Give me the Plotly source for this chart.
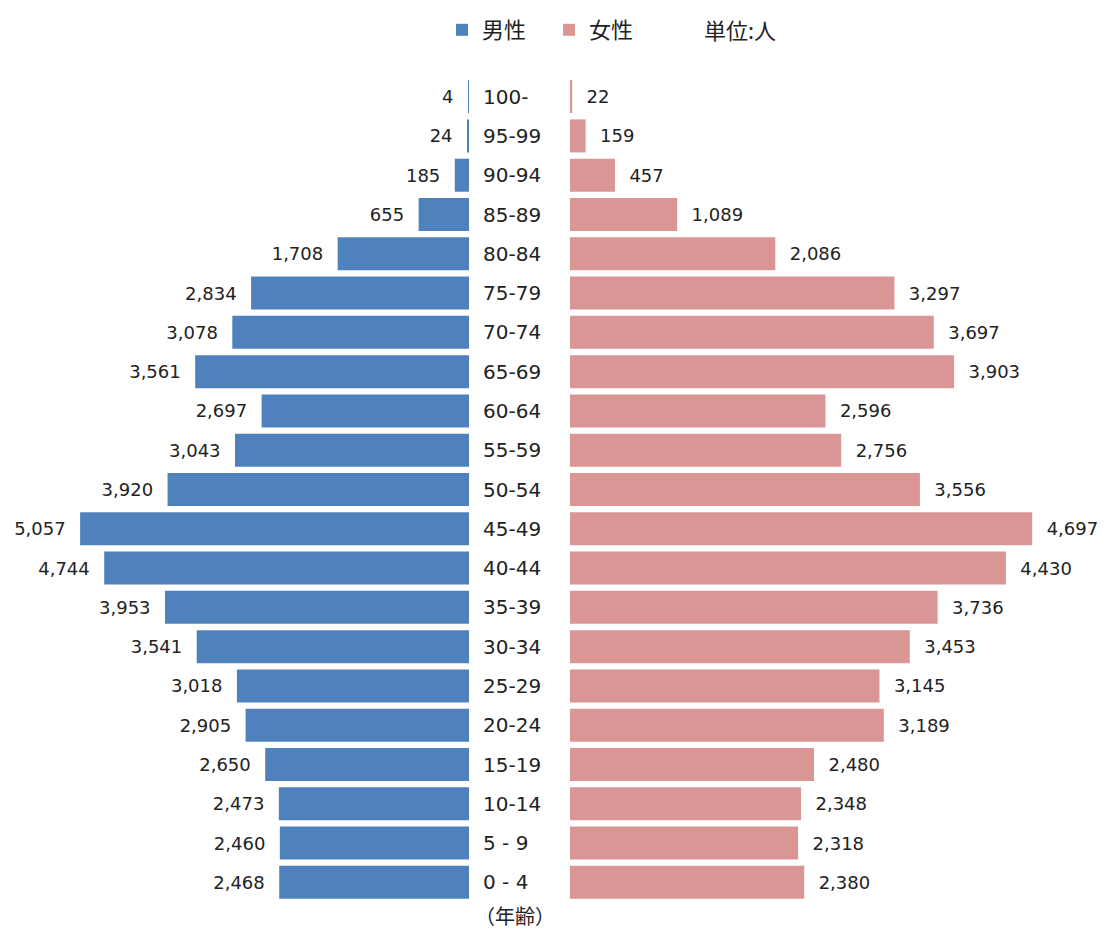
import plotly.graph_objects as go

# age groups, bottom to top
ages = ["0 - 4", "5 - 9", "10-14", "15-19", "20-24", "25-29", "30-34", "35-39",
        "40-44", "45-49", "50-54", "55-59", "60-64", "65-69", "70-74", "75-79",
        "80-84", "85-89", "90-94", "95-99", "100-"]
male = [2468, 2460, 2473, 2650, 2905, 3018, 3541, 3953, 4744, 5057, 3920,
        3043, 2697, 3561, 3078, 2834, 1708, 655, 185, 24, 4]
female = [2380, 2318, 2348, 2480, 3189, 3145, 3453, 3736, 4430, 4697, 3556,
          2756, 2596, 3903, 3697, 3297, 2086, 1089, 457, 159, 22]

# page has an 8px body margin, so the figure is a bit smaller than the window
W, H = 1101, 925
FONT = "DejaVu Sans, Noto Sans CJK JP"
CJK = "Noto Sans CJK JP"
BLUE = "#4F81BD"
PINK = "#D99694"
TXT = "#222"
PT = 69
PH = 825
NB = "\u00a0\u00a0"

fig = go.Figure()

fig.add_trace(go.Bar(
    y=ages, x=male, orientation="h", name="男性",
    marker=dict(color=BLUE, line=dict(width=0)),
    xaxis="x", yaxis="y",
    texttemplate="%{x:,}" + NB, textposition="outside",
    textfont=dict(size=18, color=TXT, family=FONT), cliponaxis=False,
))
fig.add_trace(go.Bar(
    y=ages, x=female, orientation="h", name="女性",
    marker=dict(color=PINK, line=dict(width=0)),
    xaxis="x2", yaxis="y",
    texttemplate=NB + "%{x:,}", textposition="outside",
    textfont=dict(size=18, color=TXT, family=FONT), cliponaxis=False,
))

# age labels in the gap between the two halves
annotations = []
for a in ages:
    annotations.append(dict(
        x=473 / W, xref="paper", xanchor="left",
        y=a, yref="y", yanchor="middle",
        text=a, showarrow=False,
        font=dict(size=20, color=TXT, family=FONT),
    ))
annotations.append(dict(
    x=507 / W, xref="paper", xanchor="center",
    y=-13 / PH, yref="paper", yanchor="middle",
    text="（年齢）", showarrow=False,
    font=dict(size=20, color=TXT, family=CJK),
))
annotations.append(dict(
    x=732 / W, xref="paper", xanchor="center",
    y=1 + 48 / PH, yref="paper", yanchor="middle",
    text="単位:人", showarrow=False,
    font=dict(size=22, color=TXT, family=CJK),
))

fig.update_layout(
    width=W, height=H,
    margin=dict(l=0, r=0, t=PT, b=H - PT - PH, autoexpand=False),
    paper_bgcolor="white", plot_bgcolor="white",
    font=dict(family=FONT, color=TXT),
    bargap=0.16,
    showlegend=True,
    legend=dict(
        orientation="h", x=434 / W, xanchor="left",
        y=1 + (PT - 1) / PH, yanchor="top",
        font=dict(size=22, family=CJK, color=TXT),
        itemwidth=30, entrywidth=62,
        bgcolor="rgba(0,0,0,0)",
    ),
    xaxis=dict(domain=[0, 461 / W], range=[5995, 0], visible=False,
               fixedrange=True),
    xaxis2=dict(domain=[562 / W, 1054 / W], range=[0, 5000], visible=False,
                anchor="y", fixedrange=True),
    yaxis=dict(visible=False, categoryorder="array", categoryarray=ages,
               range=[-0.5, len(ages) - 0.5], anchor="x"),
    annotations=annotations,
)

fig.write_html("out.html")
